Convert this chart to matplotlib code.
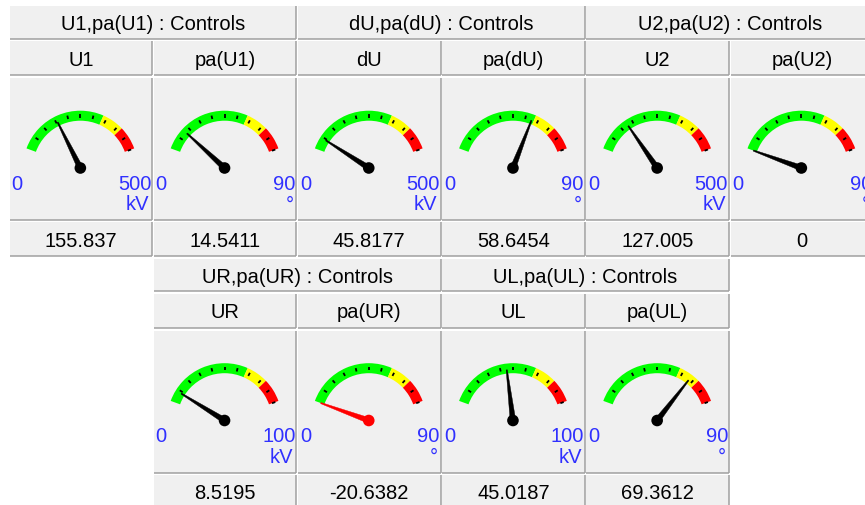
"""
Control panel of analog gauges (voltages and phase angles),
drawn in pixel coordinates on one full-figure axes.
"""

import numpy as np
import matplotlib.pyplot as plt
from matplotlib.patches import Rectangle, Wedge, Polygon, Circle

plt.rcParams["font.family"] = ["Liberation Sans", "DejaVu Sans"]

# data
groups = [
    "U1,pa(U1) : Controls",
    "dU,pa(dU) : Controls",
    "U2,pa(U2) : Controls",
    "UR,pa(UR) : Controls",
    "UL,pa(UL) : Controls",
]
names = ["U1", "pa(U1)", "dU", "pa(dU)", "U2", "pa(U2)",
         "UR", "pa(UR)", "UL", "pa(UL)"]
values = [155.837, 14.5411, 45.8177, 58.6454, 127.005, 0,
          8.5195, -20.6382, 45.0187, 69.3612]
scale_max = [500, 90, 500, 90, 500, 90, 100, 90, 100, 90]
units = ["kV", "°", "kV", "°", "kV", "°", "kV", "°", "kV", "°"]
yellow_from = 0.67
red_from = 0.83

W, H = 865, 506
CELL_W = 144.2
X0 = 8.0
ROW_DY = 252.5
GRAY = "#a0a0a0"
FACE = "#f0f0f0"
BLUE = "#3030ff"
FS = 14.5

fig = plt.figure(figsize=(W / 100, H / 100), dpi=100)
ax = fig.add_axes([0, 0, 1, 1])
ax.set_xlim(0, W)
ax.set_ylim(H, 0)
ax.axis("off")


def cell(x0, x1, y0, y1, text=None):
    ax.add_patch(Rectangle((x0, y0), x1 - x0, y1 - y0, facecolor=FACE,
                           edgecolor="none", zorder=1))
    ax.plot([x0, x1], [y1, y1], color=GRAY, lw=1.1, zorder=2,
            solid_capstyle="butt")
    ax.plot([x1, x1], [y0, y1], color=GRAY, lw=1.1, zorder=2,
            solid_capstyle="butt")
    if text is not None:
        ax.text((x0 + x1) / 2, (y0 + y1) / 2 + 1.5, text, ha="center",
                va="center", fontsize=FS, color="black", zorder=3)


def gauge(cx, cy, val, vmax, unit, x0, x1):
    r_out, band = 57.3, 10
    span = 140.0
    start = 160.0
    zones = [(0, yellow_from, "#00ff00"), (yellow_from, red_from, "#ffff00"),
             (red_from, 1.0, "#ff0000")]
    for f0, f1, col in zones:
        a_hi = start - f0 * span
        a_lo = start - f1 * span
        ax.add_patch(Wedge((cx, cy), r_out, -a_hi, -a_lo, width=band,
                           facecolor=col, edgecolor="none", zorder=3))
    for k in range(1, 11):
        a = np.radians(start - k * span / 10)
        ax.plot([cx + 50.5 * np.cos(a), cx + 54 * np.cos(a)],
                [cy - 50.5 * np.sin(a), cy - 54 * np.sin(a)],
                color="black", lw=1.3, zorder=4, solid_capstyle="butt")
    frac = val / vmax
    col = "black" if 0 <= frac <= 1 else "red"
    frac = min(max(frac, 0), 1)
    a = np.radians(start - frac * span)
    d = np.array([np.cos(a), -np.sin(a)])
    p = np.array([-d[1], d[0]])
    c = np.array([cx, cy])
    tip = c + 51 * d
    ax.add_patch(Polygon([c + 2.8 * p, tip + 0.6 * p, tip - 0.6 * p,
                          c - 2.8 * p], closed=True, facecolor=col,
                         edgecolor=col, lw=0.3, zorder=5))
    ax.add_patch(Circle((cx, cy), 5.8, facecolor=col, edgecolor="none",
                        zorder=6))
    ax.text(x0 + 2, cy + 15, "0", ha="left", va="center", fontsize=FS,
            color=BLUE, zorder=7)
    ax.text(x1 - 1, cy + 15, f"{vmax:g}", ha="right", va="center",
            fontsize=FS, color=BLUE, zorder=7)
    ax.text(x1 - 3, cy + 36, unit, ha="right", va="center", fontsize=FS,
            color=BLUE, zorder=7)


# rows: first row starts at column 0, second at column 1
layout = [(0, 0, 3), (1, 1, 2)]
g_idx = 0
m_idx = 0
for row, col0, n_groups in layout:
    dy = row * ROW_DY
    for g in range(n_groups):
        c = col0 + 2 * g
        gx0 = X0 + c * CELL_W + 1.5
        gx1 = X0 + (c + 2) * CELL_W
        cell(gx0, gx1, 7 + dy, 39.5 + dy, groups[g_idx])
        g_idx += 1
        for j in range(2):
            x0 = X0 + (c + j) * CELL_W + 1.5
            x1 = X0 + (c + j + 1) * CELL_W
            cell(x0, x1, 42 + dy, 76 + dy, names[m_idx])
            cell(x0, x1, 79 + dy, 221 + dy)
            cell(x0, x1, 223 + dy, 257 + dy, f"{values[m_idx]:g}")
            gauge((x0 + x1) / 2 - 0.5, 169 + dy, values[m_idx],
                  scale_max[m_idx], units[m_idx], x0, x1)
            m_idx += 1

fig.savefig("out.png", dpi=100, facecolor="white")
